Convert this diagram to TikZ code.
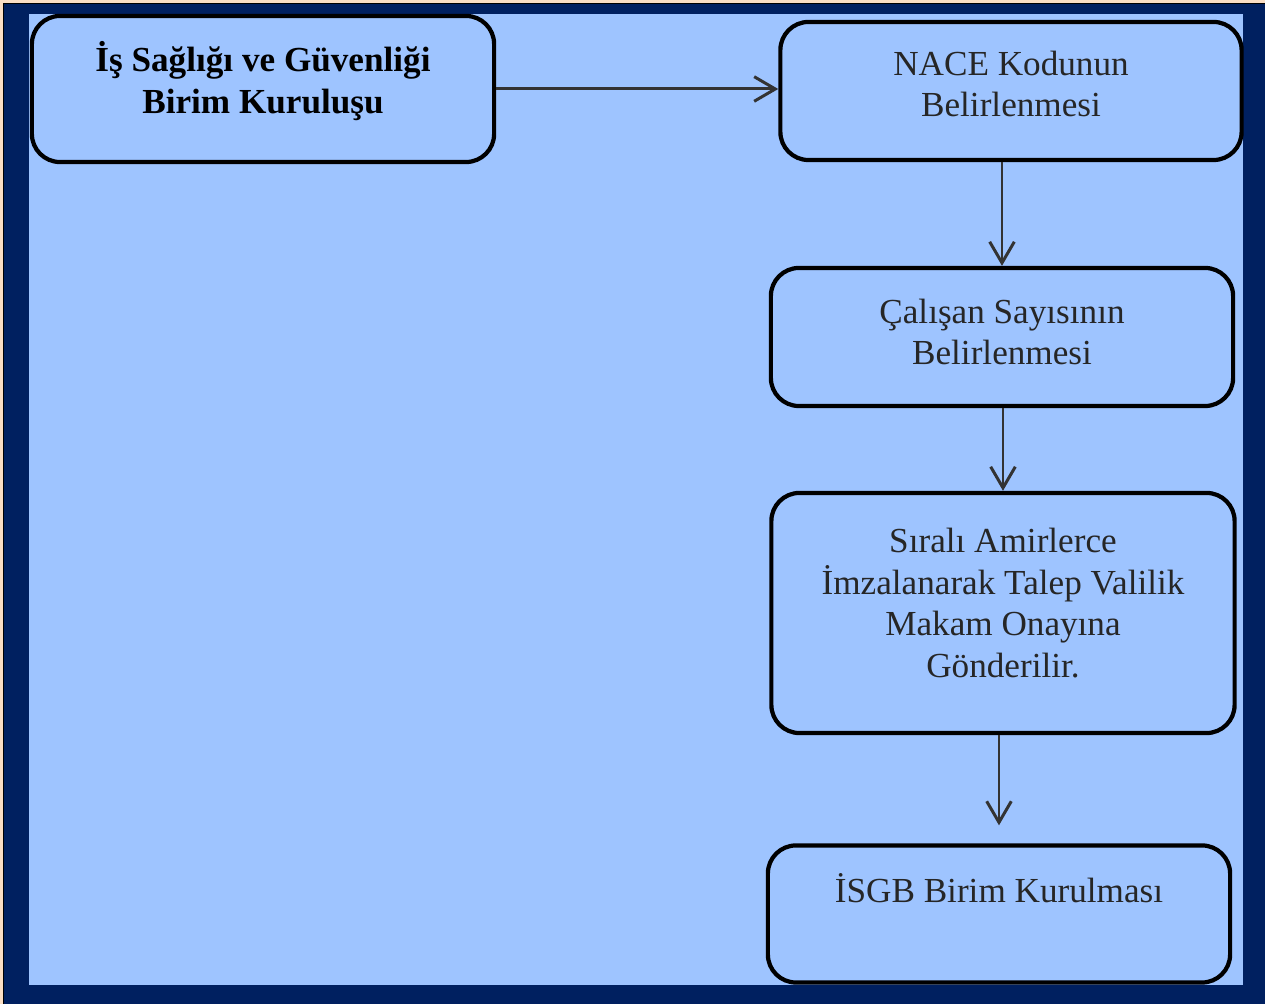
\documentclass[tikz,border=0pt]{standalone}
\usepackage{fontspec}
\setmainfont{Liberation Serif}
\usetikzlibrary{arrows.meta}

\definecolor{framenavy}{RGB}{0,32,96}
\definecolor{paleblue}{RGB}{158,196,255}
\definecolor{edgepeach}{RGB}{250,222,196}

\tikzset{
	box/.style={draw=black, line width=1.2pt, rounded corners=8pt, fill=paleblue, inner sep=0pt},
	txt/.style={align=center, font=\fontsize{10}{11.8}\selectfont, text=black!85},
	flow/.style={draw=black!80, line width=0.85pt, -{Straight Barb[length=6pt,width=7pt]}}
}

\begin{document}
\begin{tikzpicture}[x=0.01cm,y=-0.01cm]
	\useasboundingbox (0,0) rectangle (1265,1004);
	\fill[edgepeach] (0,0) rectangle (1265,1004);
	\fill[black] (3,3) rectangle (1275,1014);
	\fill[framenavy] (4,4) rectangle (1275,1014);
	\fill[paleblue] (29,14) rectangle (1243,985);

	% boxes
	\node[box, minimum width=4.62cm, minimum height=1.46cm] (isg) at (263,89) {};
	\node[box, minimum width=4.61cm, minimum height=1.38cm] (nace) at (1011,91) {};
	\node[box, minimum width=4.62cm, minimum height=1.38cm] (calisan) at (1002,337) {};
	\node[box, minimum width=4.63cm, minimum height=2.40cm] (amir) at (1003,613) {};
	\node[box, minimum width=4.62cm, minimum height=1.37cm] (isgb) at (999,914) {};

	% texts
	\node[txt, font=\fontsize{10}{11.8}\selectfont\bfseries, text=black] (isgtext) at (263,81) {İş Sağlığı ve Güvenliği\\Birim Kuruluşu};
	\node[txt] (nacetext) at (1011,84) {NACE Kodunun\\Belirlenmesi};
	\node[txt] (calisantext) at (1002,332) {Çalışan Sayısının\\Belirlenmesi};
	\node[txt] (amirtext) at (1003,603) {Sıralı Amirlerce\\İmzalanarak Talep Valilik\\Makam Onayına\\Gönderilir.};
	\node[txt] (isgbtext) at (999,888) {İSGB Birim Kurulması};

	% arrows
	\draw[flow] (isg.east) -- (isg.east -| nace.west);
	\draw[flow] (calisan.north |- nace.south) -- (calisan.north);
	\draw[flow] (amir.north |- calisan.south) -- (amir.north);
	\draw[flow, shorten >=0.18cm] (isgb.north |- amir.south) -- (isgb.north);
\end{tikzpicture}
\end{document}
